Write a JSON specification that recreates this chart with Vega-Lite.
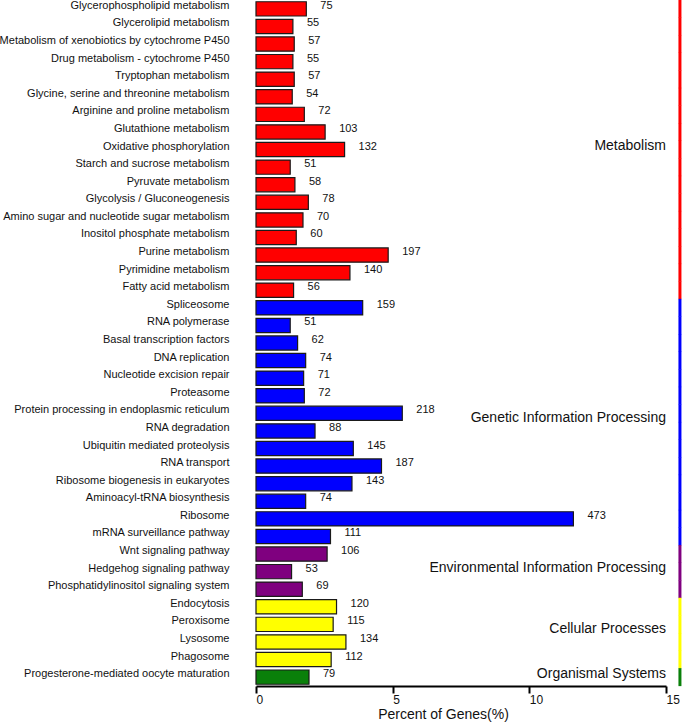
{
  "$schema": "https://vega.github.io/schema/vega-lite/v6.json",
  "autosize": {"type": "none"},
  "width": 410,
  "height": 686,
  "padding": {"left": 256, "top": 0, "right": 20, "bottom": 38},
  "config": {
    "view": {"stroke": null},
    "font": "Liberation Sans",
    "text": {"font": "Liberation Sans"}
  },
  "datasets": {
    "pathways": [
      {"pathway": "Glycerophospholipid metabolism", "group": "Metabolism", "count": 75, "percent": 1.841},
      {"pathway": "Glycerolipid metabolism", "group": "Metabolism", "count": 55, "percent": 1.350},
      {"pathway": "Metabolism of xenobiotics by cytochrome P450", "group": "Metabolism", "count": 57, "percent": 1.399},
      {"pathway": "Drug metabolism - cytochrome P450", "group": "Metabolism", "count": 55, "percent": 1.350},
      {"pathway": "Tryptophan metabolism", "group": "Metabolism", "count": 57, "percent": 1.399},
      {"pathway": "Glycine, serine and threonine metabolism", "group": "Metabolism", "count": 54, "percent": 1.326},
      {"pathway": "Arginine and proline metabolism", "group": "Metabolism", "count": 72, "percent": 1.768},
      {"pathway": "Glutathione metabolism", "group": "Metabolism", "count": 103, "percent": 2.529},
      {"pathway": "Oxidative phosphorylation", "group": "Metabolism", "count": 132, "percent": 3.241},
      {"pathway": "Starch and sucrose metabolism", "group": "Metabolism", "count": 51, "percent": 1.252},
      {"pathway": "Pyruvate metabolism", "group": "Metabolism", "count": 58, "percent": 1.424},
      {"pathway": "Glycolysis / Gluconeogenesis", "group": "Metabolism", "count": 78, "percent": 1.915},
      {"pathway": "Amino sugar and nucleotide sugar metabolism", "group": "Metabolism", "count": 70, "percent": 1.719},
      {"pathway": "Inositol phosphate metabolism", "group": "Metabolism", "count": 60, "percent": 1.473},
      {"pathway": "Purine metabolism", "group": "Metabolism", "count": 197, "percent": 4.836},
      {"pathway": "Pyrimidine metabolism", "group": "Metabolism", "count": 140, "percent": 3.437},
      {"pathway": "Fatty acid metabolism", "group": "Metabolism", "count": 56, "percent": 1.375},
      {"pathway": "Spliceosome", "group": "Genetic Information Processing", "count": 159, "percent": 3.903},
      {"pathway": "RNA polymerase", "group": "Genetic Information Processing", "count": 51, "percent": 1.252},
      {"pathway": "Basal transcription factors", "group": "Genetic Information Processing", "count": 62, "percent": 1.522},
      {"pathway": "DNA replication", "group": "Genetic Information Processing", "count": 74, "percent": 1.817},
      {"pathway": "Nucleotide excision repair", "group": "Genetic Information Processing", "count": 71, "percent": 1.743},
      {"pathway": "Proteasome", "group": "Genetic Information Processing", "count": 72, "percent": 1.768},
      {"pathway": "Protein processing in endoplasmic reticulum", "group": "Genetic Information Processing", "count": 218, "percent": 5.352},
      {"pathway": "RNA degradation", "group": "Genetic Information Processing", "count": 88, "percent": 2.160},
      {"pathway": "Ubiquitin mediated proteolysis", "group": "Genetic Information Processing", "count": 145, "percent": 3.560},
      {"pathway": "RNA transport", "group": "Genetic Information Processing", "count": 187, "percent": 4.591},
      {"pathway": "Ribosome biogenesis in eukaryotes", "group": "Genetic Information Processing", "count": 143, "percent": 3.511},
      {"pathway": "Aminoacyl-tRNA biosynthesis", "group": "Genetic Information Processing", "count": 74, "percent": 1.817},
      {"pathway": "Ribosome", "group": "Genetic Information Processing", "count": 473, "percent": 11.612},
      {"pathway": "mRNA surveillance pathway", "group": "Genetic Information Processing", "count": 111, "percent": 2.725},
      {"pathway": "Wnt signaling pathway", "group": "Environmental Information Processing", "count": 106, "percent": 2.602},
      {"pathway": "Hedgehog signaling pathway", "group": "Environmental Information Processing", "count": 53, "percent": 1.301},
      {"pathway": "Phosphatidylinositol signaling system", "group": "Environmental Information Processing", "count": 69, "percent": 1.694},
      {"pathway": "Endocytosis", "group": "Cellular Processes", "count": 120, "percent": 2.946},
      {"pathway": "Peroxisome", "group": "Cellular Processes", "count": 115, "percent": 2.823},
      {"pathway": "Lysosome", "group": "Cellular Processes", "count": 134, "percent": 3.290},
      {"pathway": "Phagosome", "group": "Cellular Processes", "count": 112, "percent": 2.750},
      {"pathway": "Progesterone-mediated oocyte maturation", "group": "Organismal Systems", "count": 79, "percent": 1.939}
    ],
    "groupsOdd": [
      {"group": "Metabolism", "anchor": "Oxidative phosphorylation"},
      {"group": "Environmental Information Processing", "anchor": "Hedgehog signaling pathway"},
      {"group": "Organismal Systems", "anchor": "Progesterone-mediated oocyte maturation"}
    ],
    "groupsEven": [
      {"group": "Genetic Information Processing", "anchor": "Protein processing in endoplasmic reticulum"},
      {"group": "Cellular Processes", "anchor": "Peroxisome"}
    ]
  },
  "data": {"name": "pathways"},
  "encoding": {
    "y": {
      "field": "pathway",
      "type": "nominal",
      "sort": null,
      "scale": {"paddingInner": 0.19, "paddingOuter": 0.1},
      "axis": {
        "title": null,
        "domain": false,
        "ticks": false,
        "labelPadding": 27,
        "labelFontSize": 11,
        "labelColor": "#111111",
        "labelLimit": 300,
        "labelOffset": -3,
        "labelFont": "Liberation Sans"
      }
    }
  },
  "layer": [
    {
      "mark": {"type": "bar", "stroke": "#1a1a1a", "strokeWidth": 1.2},
      "encoding": {
        "x": {
          "field": "percent",
          "type": "quantitative",
          "scale": {"domain": [0, 15], "nice": false},
          "axis": {
            "title": "Percent of Genes(%)",
            "titleFontSize": 14,
            "titleFontWeight": "normal",
            "titleColor": "#111111",
            "titlePadding": 2,
            "titleX": 187,
            "titleFont": "Liberation Sans",
            "values": [0, 5, 10, 15],
            "grid": false,
            "domainColor": "#000000",
            "domainWidth": 2,
            "tickColor": "#000000",
            "tickWidth": 2,
            "tickSize": 7,
            "labelAlign": "left",
            "labelFontSize": 12,
            "labelPadding": 1,
            "labelColor": "#111111",
            "labelFont": "Liberation Sans"
          }
        },
        "color": {
          "field": "group",
          "type": "nominal",
          "scale": {
            "domain": ["Metabolism", "Genetic Information Processing", "Environmental Information Processing", "Cellular Processes", "Organismal Systems"],
            "range": ["#FF0000", "#0000FF", "#7F007F", "#FFFF00", "#0A800A"]
          },
          "legend": null
        }
      }
    },
    {
      "mark": {"type": "text", "align": "left", "dx": 14, "dy": -3, "fontSize": 11, "color": "#111111"},
      "encoding": {
        "x": {"field": "percent", "type": "quantitative"},
        "text": {"field": "count", "type": "quantitative"}
      }
    },
    {
      "mark": {"type": "tick", "size": 18, "thickness": 3, "opacity": 1},
      "encoding": {
        "x": {"datum": 15.51, "type": "quantitative"},
        "color": {"field": "group", "type": "nominal", "legend": null}
      }
    },
    {
      "data": {"name": "groupsOdd"},
      "mark": {"type": "text", "align": "right", "dy": -3.5, "fontSize": 14, "color": "#111111"},
      "encoding": {
        "y": {"field": "anchor", "type": "nominal", "sort": null},
        "x": {"datum": 15, "type": "quantitative"},
        "text": {"field": "group", "type": "nominal"}
      }
    },
    {
      "data": {"name": "groupsEven"},
      "mark": {"type": "text", "align": "right", "dy": 5, "fontSize": 14, "color": "#111111"},
      "encoding": {
        "y": {"field": "anchor", "type": "nominal", "sort": null},
        "x": {"datum": 15, "type": "quantitative"},
        "text": {"field": "group", "type": "nominal"}
      }
    }
  ]
}
